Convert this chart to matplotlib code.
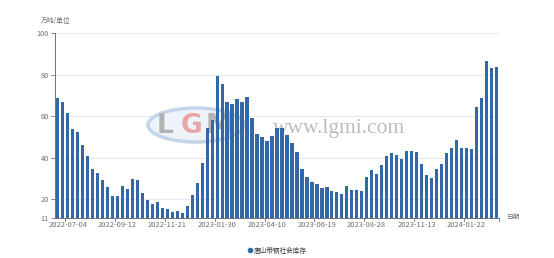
import numpy as np
import pandas as pd
import matplotlib
matplotlib.use('Agg')
import matplotlib.pyplot as plt
from matplotlib.lines import Line2D
from matplotlib.patches import Ellipse

plt.rcParams['font.family'] = ['Noto Sans CJK SC', 'DejaVu Sans']

# weekly dates; the 2023-10-02 week is missing in the source
dates = pd.date_range('2022-06-20', '2024-03-04', freq='7D')
dates = [d.strftime('%Y-%m-%d') for d in dates if d.strftime('%Y-%m-%d') != '2023-10-02']

stock = [68.7, 66.9, 61.4, 53.9, 52.4, 46.2, 40.7, 34.5, 32.5, 29.3,
         26.1, 21.7, 21.8, 26.6, 24.8, 29.6, 29.2, 23.2, 19.6, 17.7,
         18.7, 15.7, 15.2, 13.9, 14.4, 13.3, 17.0, 22.1, 27.7, 37.4,
         54.4, 58.2, 79.4, 75.6, 66.7, 65.8, 68.3, 66.7, 69.3, 59.3,
         51.5, 49.9, 48.0, 50.5, 54.6, 54.2, 51.1, 47.0, 42.8, 34.6,
         30.6, 28.2, 27.5, 25.4, 26.1, 24.1, 23.4, 22.7, 26.3, 24.5,
         24.3, 24.1, 30.9, 33.9, 32.3, 36.4, 41.0, 42.1, 41.4, 39.5,
         43.2, 43.3, 42.7, 37.2, 31.8, 30.4, 34.4, 37.0, 42.1, 44.5,
         48.8, 44.9, 44.9, 44.3, 64.6, 68.7, 86.8, 83.1, 83.6]

yticks = [11, 20, 40, 60, 80, 100]
label_idx = list(range(2, len(dates), 10))

axis_grey = '#6e7079'
bar_color = '#3368a8'

fig = plt.figure(figsize=(5.54, 2.58), dpi=100)
ax = fig.add_axes([0.0998, 0.155, 0.8004, 0.716])

x = np.arange(len(stock))
ax.bar(x, stock, width=0.68, color=bar_color, zorder=3)

ax.set_xlim(-0.5, len(stock) - 0.5)
ax.set_ylim(11, 100)

# grid
for v in yticks[1:]:
    ax.axhline(v, color='#e6e9f0', linewidth=0.8, zorder=1)

ax.set_yticks(yticks)
ax.set_yticklabels([str(v) for v in yticks])
ax.set_xticks(label_idx)
ax.set_xticklabels([dates[i] for i in label_idx])
ax.tick_params(axis='x', length=0, pad=2, labelsize=5.4, labelcolor=axis_grey)
ax.tick_params(axis='y', length=3, width=0.6, color=axis_grey, pad=1.5,
               labelsize=5.3, labelcolor=axis_grey)
# ticks on band boundaries
for i in label_idx + [len(stock)]:
    ax.plot([i - 0.5, i - 0.5], [0, -0.018], transform=ax.get_xaxis_transform(),
            color=axis_grey, linewidth=0.6, clip_on=False)

for s in ['top', 'right']:
    ax.spines[s].set_visible(False)
for s in ['left', 'bottom']:
    ax.spines[s].set_color(axis_grey)
    ax.spines[s].set_linewidth(0.7)

fig.text(40.5 / 554, 1 - 21 / 258, '万吨/单位', fontsize=4.9, color=axis_grey, va='center')
fig.text(507 / 554, 1 - 216.5 / 258, '日期', fontsize=4.9, color=axis_grey, va='center')

# watermark, behind the bars
tf = fig.transFigure
ell = Ellipse((196 / 554, 1 - 125 / 258), 96 / 554, 34 / 258, transform=tf,
              facecolor='#eef3f9', edgecolor='#c3d5ea', linewidth=2.5, zorder=2)
ax.add_patch(ell)
ell.set_clip_on(False)
for lx, ch, col in [(165, 'L', '#b3b3b3'), (191, 'G', '#eaa3a6'), (219, 'M', '#b3b3b3')]:
    ax.text(lx / 554, 1 - 126 / 258, ch, fontsize=19, color=col, transform=tf,
            ha='center', va='center', fontweight='bold', family='DejaVu Sans', zorder=2)
ax.text(273 / 554, 1 - 128 / 258, 'www.lgmi.com', fontsize=15.5, color='#bdbdbd',
        transform=tf, ha='left', va='center', family='Liberation Serif', zorder=2)

handle = Line2D([], [], marker='o', linestyle='', color=bar_color, markersize=3)
fig.legend([handle], ['唐山带钢社会库存'], loc='center', bbox_to_anchor=(277 / 554, 1 - 250.5 / 258),
           frameon=False, fontsize=4.8, handletextpad=0.1, labelcolor='#333333',
           handlelength=1.0)

fig.savefig('out.png', dpi=100)
